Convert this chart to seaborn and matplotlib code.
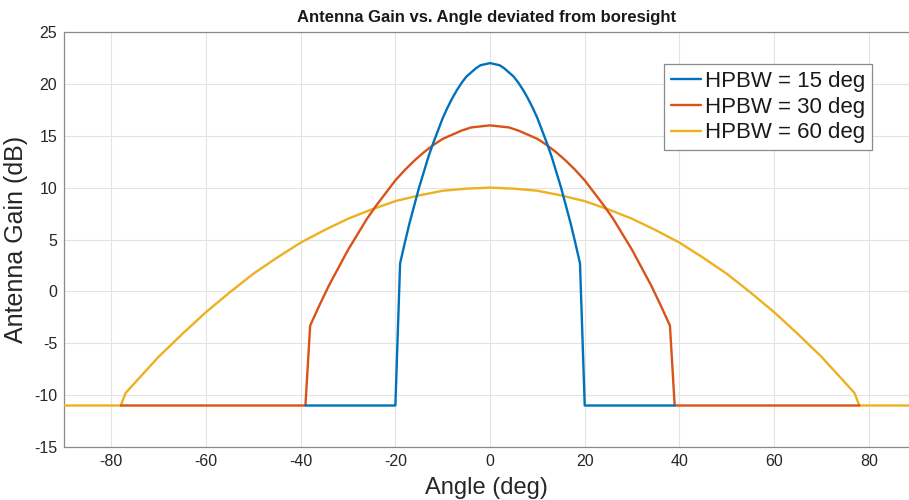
import numpy as np
import pandas as pd
import matplotlib
matplotlib.use("Agg")
import matplotlib.pyplot as plt
import seaborn as sns

# ---- data ----
series_names = ["HPBW = 15 deg", "HPBW = 30 deg", "HPBW = 60 deg"]

# visible floor segments: yellow outside +-78, red between +-78 and +-39, blue inside +-39
angle_15 = [-39, -20, -19, -18, -17, -16, -15, -14, -13, -12, -11, -10, -9, -8, -7, -6, -5, -4, -3, -2, -1, 0,
            1, 2, 3, 4, 5, 6, 7, 8, 9, 10, 11, 12, 13, 14, 15, 16, 17, 18, 19, 20, 39]
gain_15 = [-11, -11, 2.7, 4.7, 6.6, 8.3, 10.0, 11.5, 13.0, 14.3, 15.5, 16.7, 17.7, 18.6, 19.4, 20.1, 20.7, 21.1, 21.5, 21.8, 21.9, 22.0,
           21.9, 21.8, 21.5, 21.1, 20.7, 20.1, 19.4, 18.6, 17.7, 16.7, 15.5, 14.3, 13.0, 11.5, 10.0, 8.3, 6.6, 4.7, 2.7, -11, -11]

angle_30 = [-78, -39, -38, -36, -34, -32, -30, -28, -26, -24, -22, -20, -18, -16, -14, -12, -10, -8, -6, -4, -2, 0,
            2, 4, 6, 8, 10, 12, 14, 16, 18, 20, 22, 24, 26, 28, 30, 32, 34, 36, 38, 39, 78]
gain_30 = [-11, -11, -3.3, -1.3, 0.6, 2.3, 4.0, 5.5, 7.0, 8.3, 9.5, 10.7, 11.7, 12.6, 13.4, 14.1, 14.7, 15.1, 15.5, 15.8, 15.9, 16.0,
           15.9, 15.8, 15.5, 15.1, 14.7, 14.1, 13.4, 12.6, 11.7, 10.7, 9.5, 8.3, 7.0, 5.5, 4.0, 2.3, 0.6, -1.3, -3.3, -11, -11]

angle_60 = [-90, -78, -77, -74, -70, -65, -60, -55, -50, -45, -40, -35, -30, -25, -20, -15, -10, -5, 0,
            5, 10, 15, 20, 25, 30, 35, 40, 45, 50, 55, 60, 65, 70, 74, 77, 78, 90]
gain_60 = [-11, -11, -9.8, -8.3, -6.3, -4.1, -2.0, -0.1, 1.7, 3.25, 4.7, 5.9, 7.0, 7.9, 8.7, 9.25, 9.7, 9.9, 10.0,
           9.9, 9.7, 9.25, 8.7, 7.9, 7.0, 5.9, 4.7, 3.25, 1.7, -0.1, -2.0, -4.1, -6.3, -8.3, -9.8, -11, -11]

x_ticks = [-80, -60, -40, -20, 0, 20, 40, 60, 80]
y_ticks = [-15, -10, -5, 0, 5, 10, 15, 20, 25]

colors = ["#0072BD", "#D95319", "#EDB120"]

df = pd.concat([
    pd.DataFrame({"angle": angle_15, "gain": gain_15, "series": series_names[0]}),
    pd.DataFrame({"angle": angle_30, "gain": gain_30, "series": series_names[1]}),
    pd.DataFrame({"angle": angle_60, "gain": gain_60, "series": series_names[2]}),
], ignore_index=True)

sns.set_theme(style="white")
plt.rcParams["font.family"] = ["Liberation Sans", "DejaVu Sans"]
plt.rcParams["axes.unicode_minus"] = False

fig = plt.figure(figsize=(9.09, 5.0), dpi=100)
W, H = 909, 500
ax_left, ax_right, ax_top, ax_bot = 64, 909, 32, 447
ax = fig.add_axes([ax_left / W, 1 - ax_bot / H, (ax_right - ax_left) / W, (ax_bot - ax_top) / H])

sns.lineplot(data=df, x="angle", y="gain", hue="series", palette=colors,
             estimator=None, sort=True, linewidth=1.7, ax=ax)
for ln, z in zip(ax.lines[:3], [3.2, 3.1, 3.0]):
    ln.set_zorder(z)
    ln.set_solid_joinstyle("round")

ax.set_xlim(-90, 88.5)
ax.set_ylim(-15, 25)
ax.set_xticks(x_ticks)
ax.set_yticks(y_ticks)
ax.tick_params(axis="both", direction="in", length=4, width=0.6, color="#262626",
               labelsize=11.5, labelcolor="#262626", pad=5)
ax.grid(True, color="#e3e3e3", linewidth=0.8)
ax.set_axisbelow(True)
for side in ["left", "bottom", "top"]:
    ax.spines[side].set_color("#8a8a8a")
    ax.spines[side].set_linewidth(0.9)
ax.spines["right"].set_visible(False)

ax.set_xlabel("Angle (deg)", fontsize=17, color="#262626", labelpad=6)
ax.set_ylabel("Antenna Gain (dB)", fontsize=18, color="#262626", labelpad=4)
ax.set_title("Antenna Gain vs. Angle deviated from boresight", fontsize=12,
             fontweight="bold", color="#1a1a1a", pad=7)

leg = ax.legend(loc="upper right", bbox_to_anchor=((872 - ax_left) / (ax_right - ax_left),
                                                   (ax_bot - 64) / (ax_bot - ax_top)),
                frameon=True, fancybox=False, edgecolor="#8a8a8a", framealpha=1,
                prop={"family": ["Liberation Sans", "DejaVu Sans"], "size": 16},
                handlelength=1.35, handletextpad=0.2, borderpad=0.3, labelspacing=0.22,
                borderaxespad=0)
leg.get_frame().set_linewidth(0.9)
for t in leg.get_texts():
    t.set_color("#1a1a1a")

fig.savefig("out.png", dpi=100)
